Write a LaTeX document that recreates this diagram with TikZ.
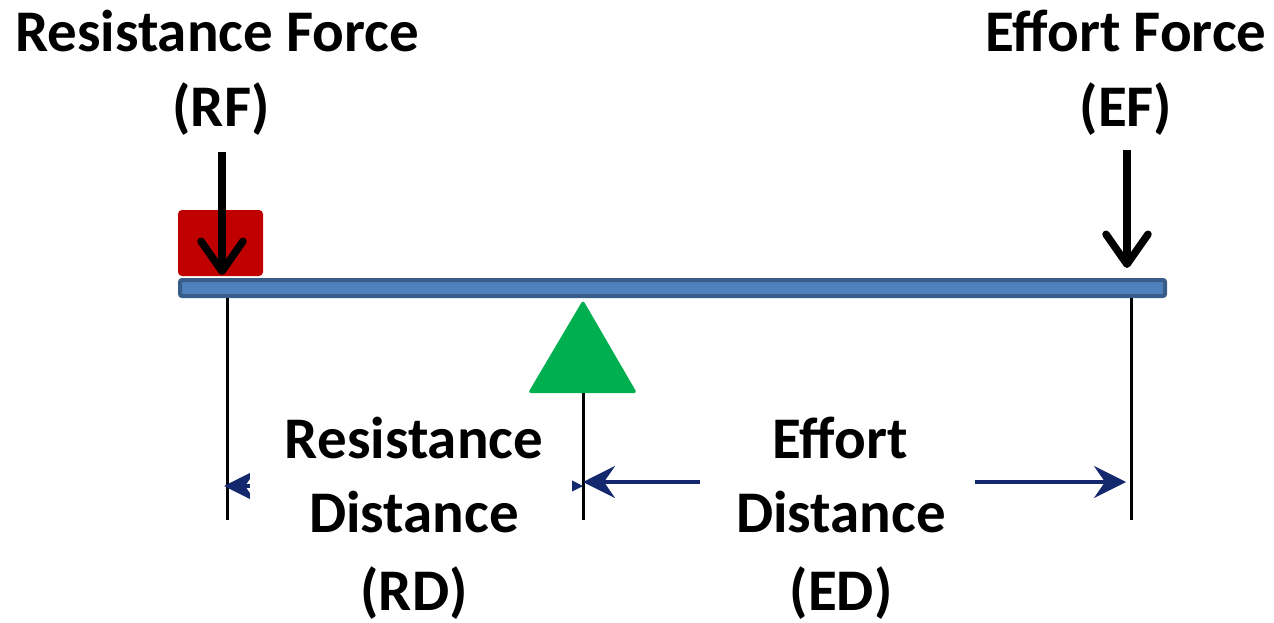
\documentclass[tikz,border=0pt]{standalone}
\usepackage{fontspec}
\setmainfont{Carlito}
\usetikzlibrary{arrows.meta}
\definecolor{beamfill}{RGB}{79,129,189}
\definecolor{beamedge}{RGB}{56,93,138}
\definecolor{loadred}{RGB}{192,0,0}
\definecolor{fulcgreen}{RGB}{0,176,80}
\definecolor{navy}{RGB}{20,40,110}
\tikzset{
  lbl/.style={font=\fontsize{59}{76}\selectfont\bfseries, anchor=base, inner sep=0pt},
  force/.style={line width=7.5pt, -{Straight Barb[length=30pt,width=42pt,round]}},
  dist/.style={navy, line width=3.5pt, -{Stealth[length=32pt,width=32pt,inset=11pt]}},
  vline/.style={line width=3pt, black},
  cover/.style={fill=white, draw=none, inner sep=0pt, minimum height=40pt},
}
\begin{document}
\begin{tikzpicture}[x=1pt,y=-1pt]
\useasboundingbox (0,0) rectangle (1274,623);
% load box
\node[fill=loadred, rounded corners=4pt, minimum width=85pt, minimum height=66pt, inner sep=0pt] (load) at (220.5,243) {};
% beam
\node[fill=beamfill, draw=beamedge, line width=4pt, rounded corners=2pt, minimum width=985pt, minimum height=16pt, inner sep=0pt] (beam) at (672.5,288) {};
% fulcrum
\coordinate (apex) at (583,300);
\coordinate (bl) at (528,393);
\coordinate (br) at (637,393);
\fill[fulcgreen, rounded corners=3pt] (apex) -- (br) -- (bl) -- cycle;
% vertical lines
\coordinate (rtop) at (227,298);
\coordinate (rbot) at (227,520);
\coordinate (fbot) at (583,520);
\coordinate (etop) at (1131,298);
\coordinate (ebot) at (1131,520);
\draw[vline] (rtop) -- (rbot);
\draw[vline] (bl -| apex) -- (fbot);
\draw[vline] (etop) -- (ebot);
% force arrows
\coordinate (rfs) at (222,152);
\coordinate (rft) at (222,275);
\coordinate (efs) at (1127,150);
\coordinate (eft) at (1127,268);
\draw[force] (rfs) -- (rft);
\draw[force] (efs) -- (eft);
% distance arrows
\coordinate (rdl) at (224,486);
\coordinate (rdr) at (583,486);
\coordinate (edl) at (583,482);
\coordinate (edr) at (1126,482);
\coordinate (rdm) at (403,486);
\coordinate (edm) at (854,482);
\draw[dist] (rdm) -- (rdl);
\draw[dist] (rdm) -- (rdr);
\draw[dist] (edm) -- (edl);
\draw[dist] (edm) -- (edr);
\node[cover, minimum width=322pt] (rdbox) at (411,486) {};
\node[cover, minimum width=275pt] (edbox) at (837.5,482) {};
% labels
\node[lbl] (rf1) at (217,52) {Resistance Force};
\node[lbl] (rf2) at (221,127) {(RF)};
\node[lbl] (ef1) at (1126,52) {Effort Force};
\node[lbl] (ef2) at (1126,127) {(EF)};
\node[lbl] (rd1) at (414,458) {Resistance};
\node[lbl] (rd2) at (414,532) {Distance};
\node[lbl] (rd3) at (414,610) {(RD)};
\node[lbl] (ed1) at (840,458) {Effort};
\node[lbl] (ed2) at (841,532) {Distance};
\node[lbl] (ed3) at (841,610) {(ED)};
\end{tikzpicture}
\end{document}
